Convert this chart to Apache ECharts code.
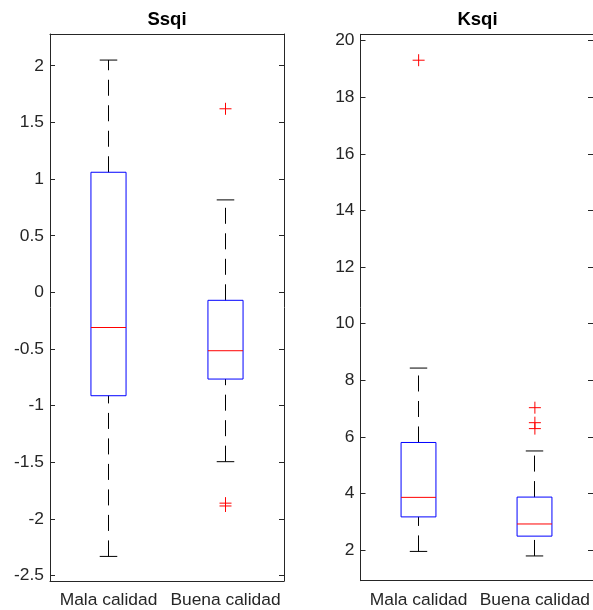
<!DOCTYPE html>
<html>
<head>
<meta charset="utf-8">
<script src="https://cdn.jsdelivr.net/npm/echarts@6/dist/echarts.min.js"></script>
<style>html,body{margin:0;padding:0;background:#fff;}#c{width:593px;height:610px;}</style>
</head>
<body>
<div id="c"></div>
<script>
// ---- data ----
const categories = ['Mala calidad', 'Buena calidad'];
// [lowerWhisker, Q1, median, Q3, upperWhisker]
const ssqiBoxes = [
  [-2.33, -0.912, -0.31, 1.06, 2.05],
  [-1.494, -0.765, -0.515, -0.07, 0.816]
];
const ssqiOutliers = [
  [1, 1.62], [1, -1.86], [1, -1.885]
];
const ksqiBoxes = [
  [1.95, 3.17, 3.86, 5.80, 8.43],
  [1.79, 2.49, 2.92, 3.87, 5.50]
];
const ksqiOutliers = [
  [0, 19.31], [1, 7.03], [1, 6.50], [1, 6.29]
];
const ssqiTicks = [-2.5, -2, -1.5, -1, -0.5, 0, 0.5, 1, 1.5, 2];
const ksqiTicks = [2, 4, 6, 8, 10, 12, 14, 16, 18, 20];
const titles = ['Ssqi', 'Ksqi'];

// ---- styling ----
const FONT = "'Liberation Sans', Arial, Helvetica, sans-serif";
const AX = '#262626';
const LABEL_SIZE = 17.4;

function boxItem(params, api) {
  const i = api.value(0);
  const pLow = api.coord([i, api.value(1)]);
  const pQ1 = api.coord([i, api.value(2)]);
  const pMed = api.coord([i, api.value(3)]);
  const pQ3 = api.coord([i, api.value(4)]);
  const pHigh = api.coord([i, api.value(5)]);
  const band = api.size([1, 0])[0];
  const bw = band * 0.15;
  const cw = band * 0.075;
  const cx = Math.round(pQ1[0] - 0.5) + 0.5;
  const dash = { stroke: '#000', lineWidth: 1, lineDash: [16, 9.5], fill: null };
  const solid = { stroke: '#000', lineWidth: 1, fill: null };
  return {
    type: 'group',
    children: [
      { type: 'line', shape: { x1: cx, y1: pQ3[1], x2: cx, y2: pHigh[1] }, style: dash },
      { type: 'line', shape: { x1: cx, y1: pLow[1], x2: cx, y2: pQ1[1] }, style: dash },
      { type: 'line', shape: { x1: cx - cw, y1: pHigh[1], x2: cx + cw, y2: pHigh[1] }, style: solid },
      { type: 'line', shape: { x1: cx - cw, y1: pLow[1], x2: cx + cw, y2: pLow[1] }, style: solid },
      { type: 'rect', shape: { x: cx - bw, y: pQ3[1], width: 2 * bw, height: pQ1[1] - pQ3[1] },
        style: { fill: 'none', stroke: '#0000ff', lineWidth: 1 } },
      { type: 'line', shape: { x1: cx - bw, y1: pMed[1], x2: cx + bw, y2: pMed[1] },
        style: { stroke: '#ff0000', lineWidth: 1 } }
    ]
  };
}

function plusItem(params, api) {
  const p = api.coord([api.value(0), api.value(1)]);
  const s = 6;
  const st = { stroke: '#ff0000', lineWidth: 1 };
  return {
    type: 'group',
    children: [
      { type: 'line', shape: { x1: p[0] - s, y1: p[1], x2: p[0] + s, y2: p[1] }, style: st },
      { type: 'line', shape: { x1: p[0], y1: p[1] - s, x2: p[0], y2: p[1] + s }, style: st }
    ]
  };
}

function xAxes(gi) {
  const base = {
    type: 'category', data: categories, gridIndex: gi,
    axisLine: { onZero: false, lineStyle: { color: AX, width: 1 } },
    axisTick: { inside: true, length: 5, alignWithLabel: true, lineStyle: { color: AX } },
    splitLine: { show: false }
  };
  return [
    Object.assign({}, base, { position: 'bottom',
      axisLabel: { color: AX, fontSize: LABEL_SIZE, fontFamily: FONT, margin: 11, interval: 0 } }),
    Object.assign({}, base, { position: 'top', axisLabel: { show: false } })
  ];
}
function yAxes(gi, min, max, ticks) {
  const base = {
    type: 'value', gridIndex: gi, min: min, max: max,
    axisLine: { show: true, onZero: false, lineStyle: { color: AX, width: 1 } },
    axisTick: { show: true, inside: true, length: 5, customValues: ticks, lineStyle: { color: AX } },
    splitLine: { show: false }
  };
  return [
    Object.assign({}, base, { position: 'left',
      axisLabel: { color: AX, fontSize: LABEL_SIZE, fontFamily: FONT, margin: 6, customValues: ticks } }),
    Object.assign({}, base, { position: 'right', axisLabel: { show: false } })
  ];
}

const toRows = (boxes) => boxes.map((b, i) => [i].concat(b));

const titleStyle = (t) => ({ text: t, fontSize: 18.5, fontWeight: 'bold', fill: '#000',
  fontFamily: FONT, align: 'center', verticalAlign: 'middle' });

const option = {
  animation: false,
  backgroundColor: '#fff',
  graphic: [
    { type: 'text', x: 167, y: 20, style: titleStyle(titles[0]) },
    { type: 'text', x: 477.5, y: 20, style: titleStyle(titles[1]) }
  ],
  grid: [
    { left: 50, top: 34, width: 234, height: 547 },
    { left: 360.5, top: 34.3, width: 234, height: 546.4 }
  ],
  xAxis: xAxes(0).concat(xAxes(1)),
  yAxis: yAxes(0, -2.547, 2.28, ssqiTicks).concat(yAxes(1, 0.915, 20.226, ksqiTicks)),
  series: [
    { type: 'custom', xAxisIndex: 0, yAxisIndex: 0, renderItem: boxItem,
      data: toRows(ssqiBoxes), encode: { x: 0, y: [1, 2, 3, 4, 5] } },
    { type: 'custom', xAxisIndex: 0, yAxisIndex: 0, renderItem: plusItem,
      data: ssqiOutliers, encode: { x: 0, y: 1 } },
    { type: 'custom', xAxisIndex: 2, yAxisIndex: 2, renderItem: boxItem,
      data: toRows(ksqiBoxes), encode: { x: 0, y: [1, 2, 3, 4, 5] } },
    { type: 'custom', xAxisIndex: 2, yAxisIndex: 2, renderItem: plusItem,
      data: ksqiOutliers, encode: { x: 0, y: 1 } }
  ]
};

const chart = echarts.init(document.getElementById('c'), null, { renderer: 'canvas' });
chart.setOption(option);
</script>
</body>
</html>
